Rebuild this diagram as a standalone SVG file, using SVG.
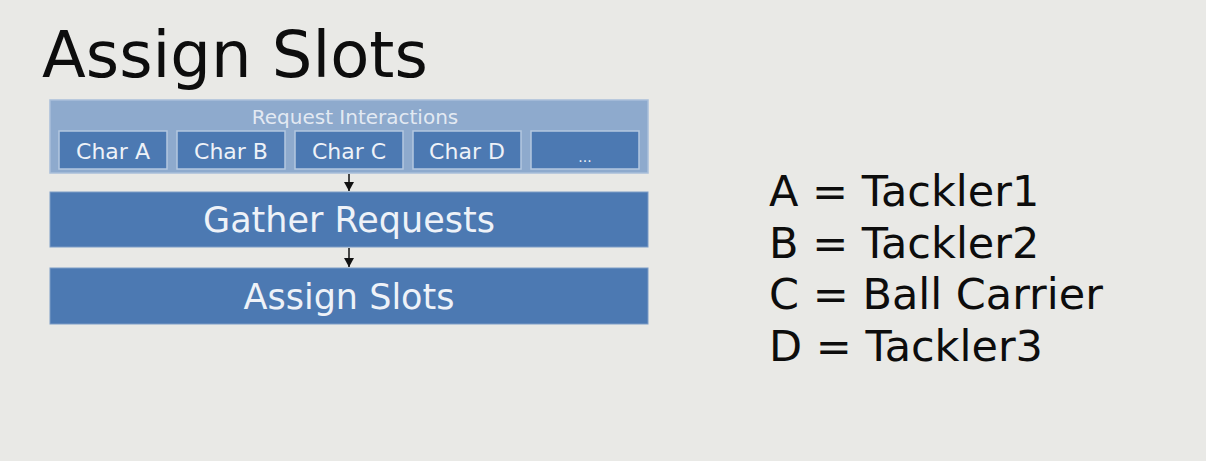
<svg xmlns="http://www.w3.org/2000/svg" width="1206" height="461" viewBox="0 0 1206 461">
  <defs>
    <marker id="arrow" markerWidth="10" markerHeight="10" refX="9" refY="5" orient="auto" markerUnits="userSpaceOnUse">
      <path d="M0,0 L9,5 L0,10 Z" fill="#111"/>
    </marker>
    <style>
      text { font-family: "DejaVu Sans", Verdana, sans-serif; }
      .title { font-size: 64px; fill: #0d0d0d; }
      .legend { font-size: 43px; fill: #0d0d0d; }
      .panel { fill: #8eaacd; stroke: #a9bfda; stroke-width: 1.5; }
      .char { fill: #4c79b2; stroke: #b4c8e0; stroke-width: 1.5; }
      .stage { fill: #4c79b2; stroke: #7d9dc6; stroke-width: 1; }
      .lbl { fill: #eef2f8; text-anchor: middle; }
      .small { font-size: 22px; }
      .big { font-size: 35px; }
      .conn { stroke: #111; stroke-width: 1.5; fill: none; marker-end: url(#arrow); }
    </style>
  </defs>

  <rect width="1206" height="461" fill="#e9e9e6"/>

  <text class="title" x="42" y="77">Assign Slots</text>

  <g id="request-interactions">
    <rect class="panel" x="50" y="100" width="598" height="73"/>
    <text class="lbl" x="355" y="124" font-size="20" fill-opacity="0.9">Request Interactions</text>
  </g>
  <g id="char-a">
    <rect class="char" x="59" y="131" width="108" height="38"/>
    <text class="lbl small" x="113" y="159">Char A</text>
  </g>
  <g id="char-b">
    <rect class="char" x="177" y="131" width="108" height="38"/>
    <text class="lbl small" x="231" y="159">Char B</text>
  </g>
  <g id="char-c">
    <rect class="char" x="295" y="131" width="108" height="38"/>
    <text class="lbl small" x="349" y="159">Char C</text>
  </g>
  <g id="char-d">
    <rect class="char" x="413" y="131" width="108" height="38"/>
    <text class="lbl small" x="467" y="159">Char D</text>
  </g>
  <g id="char-more">
    <rect class="char" x="531" y="131" width="108" height="38"/>
    <text class="lbl" x="585" y="162" font-size="14">...</text>
  </g>

  <g id="gather-requests">
    <rect class="stage" x="50" y="192" width="598" height="55"/>
    <text class="lbl big" x="349" y="232">Gather Requests</text>
  </g>

  <g id="assign-slots">
    <rect class="stage" x="50" y="268" width="598" height="56"/>
    <text class="lbl big" x="349" y="309">Assign Slots</text>
  </g>

  <g id="connectors">
    <line class="conn" x1="349" y1="174" x2="349" y2="191"/>
    <line class="conn" x1="349" y1="248" x2="349" y2="267"/>
  </g>

  <g id="legend">
    <text class="legend" x="769" y="206">A = Tackler1</text>
    <text class="legend" x="769" y="258">B = Tackler2</text>
    <text class="legend" x="769" y="309">C = Ball Carrier</text>
    <text class="legend" x="769" y="361">D = Tackler3</text>
  </g>
</svg>
